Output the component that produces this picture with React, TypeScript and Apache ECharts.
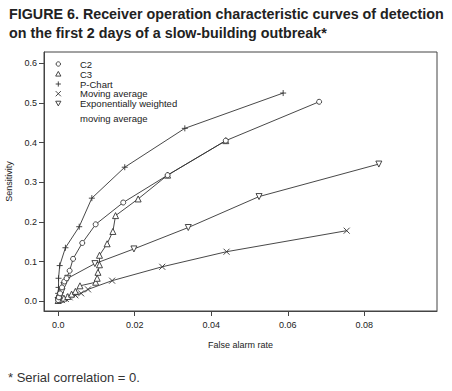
import React, { useEffect, useRef } from "react";
import * as echarts from "echarts";

const xTicks = [0, 0.02, 0.04, 0.06, 0.08];
const yTicks = [0, 0.1, 0.2, 0.3, 0.4, 0.5, 0.6];

const seriesNames = ["C2", "C3", "P-Chart", "Moving average", "Exponentially weighted moving average"];

const c2 = [
  [0, 0.003], [0.0002, 0.01], [0.0005, 0.02], [0.001, 0.035], [0.0016, 0.05], [0.0022, 0.058],
  [0.003, 0.077], [0.0039, 0.107], [0.0063, 0.147], [0.0098, 0.194], [0.017, 0.249],
  [0.0286, 0.318], [0.0438, 0.405], [0.0682, 0.503],
];
const c3 = [
  [0, 0.002], [0.0006, 0.005], [0.0015, 0.008], [0.0025, 0.012], [0.0035, 0.018], [0.0045, 0.025],
  [0.0057, 0.039], [0.0098, 0.048], [0.0102, 0.058], [0.0104, 0.073], [0.0108, 0.092],
  [0.0108, 0.116], [0.0128, 0.145], [0.0143, 0.176], [0.015, 0.216], [0.0209, 0.258],
  [0.0286, 0.318], [0.0438, 0.405],
];
const pChart = [
  [0, 0.003], [0, 0.01], [0, 0.02], [0.0001, 0.035], [0.0001, 0.058], [0.0004, 0.09],
  [0.0019, 0.135], [0.0055, 0.188], [0.0088, 0.26], [0.0174, 0.338], [0.0331, 0.436], [0.0588, 0.525],
];
const movingAvg = [
  [0, 0.001], [0.001, 0.003], [0.002, 0.006], [0.003, 0.01], [0.0045, 0.015], [0.006, 0.02],
  [0.0078, 0.03], [0.0141, 0.052], [0.0272, 0.087], [0.044, 0.125], [0.0754, 0.178],
];
const ewma = [
  [0, 0.002], [0.0003, 0.008], [0.0006, 0.015], [0.001, 0.025], [0.0015, 0.04], [0.0025, 0.058],
  [0.0096, 0.095], [0.0198, 0.132], [0.034, 0.186], [0.0525, 0.264], [0.0838, 0.346],
];

const INK = "#333333";
const SYM_CIRCLE = "circle";
const SYM_TRI = "path://M5,0L10,9L0,9Z";
const SYM_PLUS = "path://M5,0L5,10M0,5L10,5";
const SYM_X = "path://M0,0L10,10M10,0L0,10";
const SYM_ITRI = "path://M0,0L10,0L5,9Z";

export default function App() {
  const ref = useRef<HTMLDivElement>(null);
  useEffect(() => {
    if (!ref.current) return;
    const chart = echarts.init(ref.current, null, { renderer: "svg" });
    const font = '"Liberation Sans", Arial, Helvetica, sans-serif';
    const mk = (name: string, data: number[][], symbol: string, size: number) => ({
      name,
      type: "line",
      data,
      symbol,
      symbolSize: size,
      showSymbol: true,
      lineStyle: { color: INK, width: 0.9 },
      itemStyle: { color: "#ffffff", borderColor: INK, borderWidth: 0.9 },
      emphasis: { disabled: true },
      z: 2,
    });

    const legendRows = [
      { sym: "circle", label: "C2", y: 64 },
      { sym: "tri", label: "C3", y: 74 },
      { sym: "plus", label: "P-Chart", y: 84 },
      { sym: "x", label: "Moving average", y: 93.7 },
      { sym: "itri", label: "Exponentially weighted", y: 103.3 },
    ];
    const lx = 58.3;
    const legendGraphics: any[] = [];
    legendRows.forEach((r) => {
      const s = 2.6;
      const st = { stroke: INK, lineWidth: 0.9, fill: "#fff" };
      if (r.sym === "circle") legendGraphics.push({ type: "circle", shape: { cx: lx, cy: r.y, r: 2.2 }, style: st });
      if (r.sym === "tri")
        legendGraphics.push({ type: "polygon", shape: { points: [[lx, r.y - s], [lx + s, r.y + s * 0.8], [lx - s, r.y + s * 0.8]] }, style: st });
      if (r.sym === "itri")
        legendGraphics.push({ type: "polygon", shape: { points: [[lx - s, r.y - s * 0.8], [lx + s, r.y - s * 0.8], [lx, r.y + s]] }, style: st });
      if (r.sym === "plus") {
        legendGraphics.push({ type: "line", shape: { x1: lx - s, y1: r.y, x2: lx + s, y2: r.y }, style: st });
        legendGraphics.push({ type: "line", shape: { x1: lx, y1: r.y - s, x2: lx, y2: r.y + s }, style: st });
      }
      if (r.sym === "x") {
        legendGraphics.push({ type: "line", shape: { x1: lx - s, y1: r.y - s, x2: lx + s, y2: r.y + s }, style: st });
        legendGraphics.push({ type: "line", shape: { x1: lx - s, y1: r.y + s, x2: lx + s, y2: r.y - s }, style: st });
      }
      legendGraphics.push({
        type: "text",
        style: { text: r.label, x: 80, y: r.y, verticalAlign: "middle", font: `9.5px ${font}`, fill: "#222" },
      });
    });
    legendGraphics.push({
      type: "text",
      style: { text: "moving average", x: 80, y: 118.3, verticalAlign: "middle", font: `9.5px ${font}`, fill: "#222" },
    });

    chart.setOption({
      animation: false,
      backgroundColor: "#ffffff",
      textStyle: { fontFamily: font },
      grid: {
        left: 44, top: 52, right: 15, bottom: 80,
        show: true, borderColor: "#444", borderWidth: 1, backgroundColor: "transparent",
        containLabel: false, outerBoundsMode: "none",
      },
      xAxis: {
        type: "value",
        min: -0.0037,
        max: 0.099,
        name: "False alarm rate",
        nameLocation: "middle",
        nameGap: 29,
        nameTextStyle: { fontSize: 9, color: "#222", fontFamily: font },
        axisLine: { show: true, onZero: false, lineStyle: { color: "#444", width: 1 } },
        axisTick: { show: true, length: 5, lineStyle: { color: "#444", width: 1 }, customValues: xTicks },
        axisLabel: {
          customValues: xTicks,
          margin: 9,
          fontSize: 9,
          color: "#222",
          fontFamily: font,
          formatter: (v: number) => (v === 0 ? "0.0" : v.toFixed(2)),
        },
        splitLine: { show: false },
      },
      yAxis: {
        type: "value",
        min: -0.0245,
        max: 0.6285,
        name: "Sensitivity",
        nameLocation: "middle",
        nameGap: 21,
        nameRotate: 90,
        nameTextStyle: { fontSize: 9, color: "#222", fontFamily: font },
        axisLine: { show: true, onZero: false, lineStyle: { color: "#444", width: 1 } },
        axisTick: { show: true, length: 5, lineStyle: { color: "#444", width: 1 }, customValues: yTicks },
        axisLabel: {
          customValues: yTicks,
          margin: 7,
          fontSize: 9,
          color: "#222",
          fontFamily: font,
          formatter: (v: number) => v.toFixed(1),
        },
        splitLine: { show: false },
      },
      series: [
        mk(seriesNames[3], movingAvg, SYM_X, 6),
        mk(seriesNames[4], ewma, SYM_ITRI, 6),
        mk(seriesNames[2], pChart, SYM_PLUS, 6),
        mk(seriesNames[1], c3, SYM_TRI, 6),
        mk(seriesNames[0], c2, SYM_CIRCLE, 5),
      ],
      graphic: [
        {
          type: "text",
          style: {
            text: "FIGURE 6. Receiver operation characteristic curves of detection",
            x: 9, y: 14, verticalAlign: "middle",
            font: `bold 14.3px ${font}`, fill: "#222",
          },
        },
        {
          type: "text",
          style: {
            text: "on the first 2 days of a slow-building outbreak*",
            x: 9, y: 33, verticalAlign: "middle",
            font: `bold 14.3px ${font}`, fill: "#222",
          },
        },
        {
          type: "text",
          style: {
            text: "* Serial correlation = 0.",
            x: 8, y: 377, verticalAlign: "middle",
            font: `13px ${font}`, fill: "#333",
          },
        },
        ...legendGraphics,
      ],
    });
    return () => chart.dispose();
  }, []);
  return <div ref={ref} style={{ position: "absolute", left: 0, top: 0, width: 452, height: 391 }} />;
}
